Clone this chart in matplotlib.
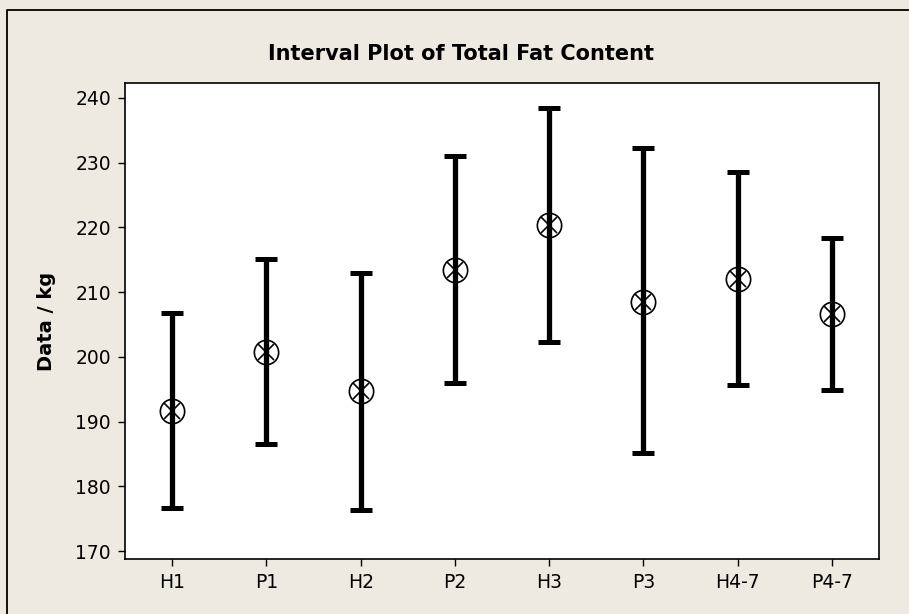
import numpy as np
import matplotlib
matplotlib.use('Agg')
import matplotlib.pyplot as plt
from matplotlib.lines import Line2D

# ================================
# data

groups = ['H1', 'P1', 'H2', 'P2', 'H3', 'P3', 'H4-7', 'P4-7']
means = [191.7, 200.7, 194.7, 213.5, 220.3, 208.5, 212.0, 206.6]
upper = [206.8, 215.1, 212.9, 231.1, 238.4, 232.3, 228.6, 218.4]
lower = [176.6, 186.6, 176.3, 195.9, 202.3, 185.1, 195.6, 194.9]

# ================================
# plot

plt.rcParams['font.family'] = ['DejaVu Sans']
bg = '#eeeae1'

fig = plt.figure(figsize=(9.09, 6.14), dpi=100, facecolor=bg)
ax = fig.add_axes([125/909, 1 - 559/614, (879-125)/909, (559-83)/614])
ax.set_facecolor('white')

# outer frame: only left and top edges show
fx, fy = 7.5/909, 1 - 9.5/614
fig.lines.append(Line2D([fx, fx, 1], [0, fy, fy], transform=fig.transFigure,
                        color='black', lw=1.3))

x = np.arange(len(groups))
m = np.array(means)
err = [m - np.array(lower), np.array(upper) - m]

ax.errorbar(x, m, yerr=err, fmt='none', ecolor='black', elinewidth=3.8,
            capsize=8, capthick=3.6, zorder=2)
ax.plot(x, m, 'o', ms=17.5, mfc='none', mec='black', mew=1.2, zorder=3)
ax.plot(x, m, 'x', ms=12, mec='black', mew=1.2, zorder=4)

ax.set_xlim(-0.5, 7.5)
ax.set_ylim(168.8, 242.3)
ax.set_xticks(x)
ax.set_xticklabels(groups)
ax.set_yticks(np.arange(170, 241, 10))
ax.tick_params(labelsize=13.5, length=5, width=1, colors='black', pad=5)

for s in ax.spines.values():
    s.set_linewidth(1.2)

ax.set_ylabel('Data / kg', fontsize=14, fontweight='bold', labelpad=14)
fig.text(461/909, 1 - 54/614, 'Interval Plot of Total Fat Content',
         ha='center', va='center', fontsize=15, fontweight='bold')

fig.savefig('out.png', dpi=100, facecolor=bg)
